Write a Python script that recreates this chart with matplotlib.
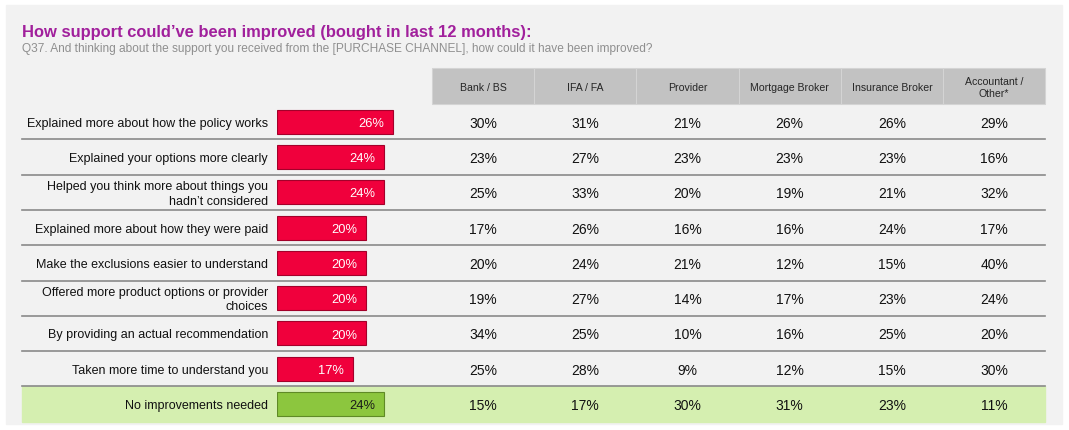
import matplotlib.pyplot as plt
from matplotlib.patches import Rectangle

plt.rcParams['font.family'] = ['Liberation Sans', 'DejaVu Sans']

# Data
title = "How support could\u2019ve been improved (bought in last 12 months):"
subtitle = ("Q37. And thinking about the support you received from the "
            "[PURCHASE CHANNEL], how could it have been improved?")
statements = [
    "Explained more about how the policy works",
    "Explained your options more clearly",
    "Helped you think more about things you\nhadn\u2019t considered",
    "Explained more about how they were paid",
    "Make the exclusions easier to understand",
    "Offered more product options or provider\nchoices",
    "By providing an actual recommendation",
    "Taken more time to understand you",
    "No improvements needed",
]
total = [26, 24, 24, 20, 20, 20, 20, 17, 24]
channels = ["Bank / BS", "IFA / FA", "Provider", "Mortgage Broker",
            "Insurance Broker", "Accountant /\nOther*"]
bank_bs = [30, 23, 25, 17, 20, 19, 34, 25, 15]
ifa_fa = [31, 27, 33, 26, 24, 27, 25, 28, 17]
provider = [21, 23, 20, 16, 21, 14, 10, 9, 30]
mortgage_broker = [26, 23, 19, 16, 12, 17, 16, 12, 31]
insurance_broker = [26, 23, 21, 24, 15, 23, 25, 15, 23]
accountant_other = [29, 16, 32, 17, 40, 24, 20, 30, 11]
channel_values = [bank_bs, ifa_fa, provider, mortgage_broker,
                  insurance_broker, accountant_other]

W, H = 1069, 431
fig = plt.figure(figsize=(W / 100, H / 100), dpi=100)
fig.patch.set_facecolor('white')

# background axes in pixel coordinates
bg = fig.add_axes([0, 0, 1, 1])
bg.set_xlim(0, W)
bg.set_ylim(H, 0)
bg.axis('off')
bg.add_patch(Rectangle((6, 6), 1056, 419, color='#f2f2f2', zorder=0))

bg.text(22, 37, title, color='#a1209c', fontsize=11.9, fontweight='bold',
        va='baseline')
bg.text(22, 52, subtitle, color='#8f8f8f', fontsize=8.6, va='baseline')

# table geometry
n = len(statements)
top, row_h = 105.0, 35.3
col_x0, col_w = 432.0, 102.2
table_right = col_x0 + col_w * len(channels)

# header
for j, ch in enumerate(channels):
    x = col_x0 + j * col_w
    bg.add_patch(Rectangle((x, 69), col_w, top - 69, facecolor='#c2c2c2',
                           edgecolor='#d4d4d4', lw=0.8, zorder=1))
    bg.text(x + col_w / 2, (69 + top) / 2 + 1, ch, ha='center', va='center',
            fontsize=7.6, color='#262626', linespacing=1.35, zorder=2)

# green highlight row (last)
bg.add_patch(Rectangle((22, top + (n - 1) * row_h), table_right - 22, row_h,
                       color='#d5efb0', zorder=1))

# dividers
for i in range(1, n):
    y = top + i * row_h
    bg.plot([22, table_right], [y, y], color='#8a8a8a', lw=1.2, zorder=2)

# row labels and channel values
for i, s in enumerate(statements):
    yc = top + (i + 0.5) * row_h
    bg.text(268, yc + 1, s, ha='right', va='center', fontsize=9.0,
            color='#111111', linespacing=1.3, zorder=3)
    for j, vals in enumerate(channel_values):
        bg.text(col_x0 + (j + 0.5) * col_w, yc + 1, f"{vals[i]}%",
                ha='center', va='center', fontsize=10, color='#111111',
                zorder=3)

# bar axes: percent scale on x, rows on y
px_per_pct = 4.45
bar_w_px = 40 * px_per_pct
bx = fig.add_axes([277 / W, 1 - (top + n * row_h) / H, bar_w_px / W,
                   n * row_h / H])
bx.set_xlim(0, 40)
bx.set_ylim(n - 0.5, -0.5)
bx.axis('off')
bx.patch.set_alpha(0)

bar_colors = ['#f0003c'] * (n - 1) + ['#8cc63e']
edge_colors = ['#a3002a'] * (n - 1) + ['#5f8a26']
bx.barh(range(n), total, height=0.68, color=bar_colors,
        edgecolor=edge_colors, linewidth=0.8)
for i, v in enumerate(total):
    tc = 'white' if i < n - 1 else '#1a1a1a'
    bx.text(v - 1.9, i + 0.03, f"{v}%", ha='right', va='center',
            fontsize=9.3, color=tc)

fig.savefig('out.png', dpi=100)
